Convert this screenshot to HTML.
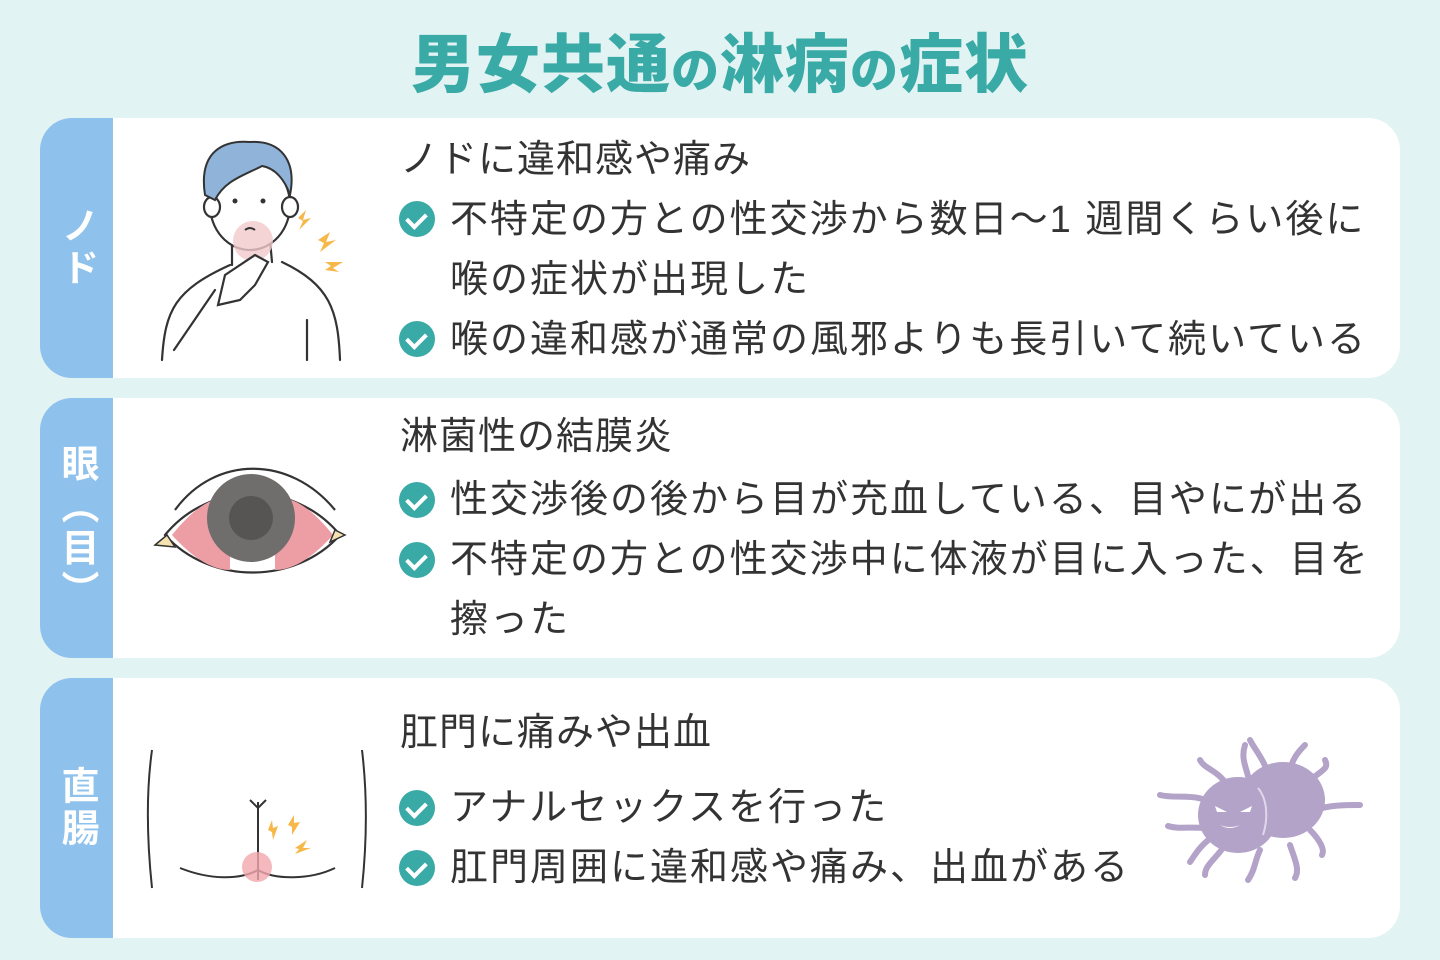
<!DOCTYPE html>
<html><head><meta charset="utf-8"><style>
*{margin:0;padding:0;box-sizing:border-box}
body{width:1440px;height:960px;background:#e2f3f3;position:relative;overflow:hidden;font-family:"Liberation Sans","Noto Sans CJK JP",sans-serif;color:#333}
.title{position:absolute;top:22px;left:0;width:1440px;text-align:center;font-size:64px;font-weight:900;color:#3aaaa6;letter-spacing:1px;line-height:86px}
.title small{font-size:48px}
.card{position:absolute;left:40px;width:1360px;height:260px;background:#fff;border-radius:32px;overflow:hidden}
.tab{position:absolute;left:0;top:0;width:73px;height:100%;background:#8ec1eb;display:flex;align-items:center;justify-content:center}
.tab span{writing-mode:vertical-rl;color:#fff;font-size:38px;font-weight:700;letter-spacing:4px}
.t{position:absolute;font-size:38px;line-height:40px;white-space:nowrap;color:#333;letter-spacing:2px}
.h{letter-spacing:1px}
.ck{position:absolute;width:36px;height:36px;border-radius:50%;background:#3aaaa6}
.ck:after{content:"";position:absolute;left:11px;top:8px;width:9px;height:15px;border:solid #fff;border-width:0 4px 4px 0;transform:rotate(45deg)}
svg{position:absolute}
</style></head><body>
<div class="title">男女共通<small>の</small>淋病<small>の</small>症状</div>

<div class="card" style="top:118px">
<div class="tab"><span>ノド</span></div>
<svg style="left:100px;top:10px" width="240" height="245" viewBox="140 128 240 245">
<g fill="none" stroke="#333" stroke-width="2.2" stroke-linecap="round">
<path d="M162 360 C165 310 175 290 230 265 M340 360 C338 310 330 285 282 262"/>
<path d="M174 350 L215 290 M307 320 L307 360"/>
<path d="M232 240 L232 265 M270 240 L272 262"/>
<ellipse cx="250" cy="205" rx="40" ry="45" fill="#fff"/>
<ellipse cx="212" cy="207" rx="8" ry="10" fill="#fff"/><ellipse cx="290" cy="207" rx="8" ry="10" fill="#fff"/>
</g>
<path d="M205 195 C198 150 225 140 250 142 C280 140 297 160 290 195 C285 180 275 168 262 166 C245 175 225 180 215 200 Z" fill="#8fb3d9" stroke="#333" stroke-width="2"/>
<circle cx="253" cy="241" r="20" fill="#f2c9cc" opacity=".8"/>
<circle cx="235" cy="201" r="2.5" fill="#333"/><circle cx="263" cy="201" r="2.5" fill="#333"/>
<path d="M245 230 q5 -4 10 0" stroke="#333" stroke-width="2" fill="none"/>
<path d="M218 305 L225 275 L255 255 L268 262 L255 285 L240 300 Z" fill="#fff" stroke="#333" stroke-width="2.2"/>
<path d="M298 218 l8 -8 -3 10 8 -2 -12 12 4 -9z M318 240 l12 -8 -4 10 10 -2 -16 12 4 -9z M325 262 l18 0 -10 6 6 4 -14 -2 6 -4z" fill="#f7b84a"/>
</svg>
<div class="t h" style="left:360px;top:22px">ノドに違和感や痛み</div>
<div class="ck" style="left:359px;top:83px"></div>
<div class="t" style="left:410px;top:82px">不特定の方との性交渉から数日〜1 週間くらい後に</div>
<div class="t" style="left:410px;top:142px">喉の症状が出現した</div>
<div class="ck" style="left:359px;top:203px"></div>
<div class="t" style="left:410px;top:202px">喉の違和感が通常の風邪よりも長引いて続いている</div>
</div>

<div class="card" style="top:398px">
<div class="tab"><span>眼（目）</span></div>
<svg style="left:110px;top:60px" width="200" height="120" viewBox="150 458 200 120">
<path d="M175 510 C215 455 290 455 335 510" fill="none" stroke="#333" stroke-width="2.2"/>
<path d="M165 535 C210 480 295 480 340 535 C295 585 210 585 165 535 Z" fill="#fff" stroke="#333" stroke-width="2.2"/>
<path d="M172 535 C200 500 220 495 230 500 L230 570 C210 570 190 555 172 535 Z" fill="#ed9ea4"/>
<path d="M333 535 C305 500 285 495 275 500 L275 570 C295 570 315 555 333 535 Z" fill="#ed9ea4"/>
<circle cx="251" cy="518" r="44" fill="#6f6e6c"/><circle cx="251" cy="518" r="22" fill="#565553"/>
<path d="M155 545 l12 -10 8 12 z M345 535 l-10 -5 -5 12z" fill="#f5e2b0" stroke="#333" stroke-width="1.5"/>
</svg>
<div class="t h" style="left:360px;top:19px">淋菌性の結膜炎</div>
<div class="ck" style="left:359px;top:84px"></div>
<div class="t" style="left:410px;top:82px">性交渉後の後から目が充血している、目やにが出る</div>
<div class="ck" style="left:359px;top:144px"></div>
<div class="t" style="left:410px;top:142px">不特定の方との性交渉中に体液が目に入った、目を</div>
<div class="t" style="left:410px;top:202px">擦った</div>
</div>

<div class="card" style="top:678px">
<div class="tab"><span>直腸</span></div>
<svg style="left:100px;top:60px" width="240" height="160" viewBox="140 738 240 160">
<g fill="none" stroke="#333" stroke-width="2">
<path d="M152 750 C145 800 148 850 152 888 M362 750 C368 800 366 850 362 888"/>
<path d="M180 868 C210 880 240 880 258 870 C275 880 310 880 335 868"/>
<path d="M258 802 L258 880 M250 800 L258 808 L266 800"/>
</g>
<circle cx="257" cy="867" r="15" fill="#f2a7ad" opacity=".8"/>
<path d="M268 830 l4 -10 1 8 5 -2 -5 14 -1 -8z M288 825 l6 -10 0 8 6 -1 -8 13 0 -8z M295 848 l12 -8 -4 8 8 0 -16 6 4 -5z" fill="#f7b84a"/>
</svg>
<svg style="left:1100px;top:50px" width="240" height="170" viewBox="1140 728 240 170">
<g stroke="#b3a3c9" stroke-width="6" fill="none" stroke-linecap="round">
<path d="M1220 810 C1200 790 1180 800 1160 795 M1215 830 C1195 825 1180 830 1168 826 M1230 790 C1220 770 1205 770 1200 760 M1250 785 C1248 770 1240 760 1245 745 M1270 780 C1265 760 1255 750 1250 740 M1290 775 C1290 760 1300 750 1305 745 M1305 785 C1320 770 1330 770 1325 760 M1315 810 C1330 805 1345 805 1360 805 M1310 830 C1320 840 1325 850 1322 855 M1290 845 C1295 860 1300 870 1295 878 M1260 850 C1255 860 1255 870 1248 880 M1225 845 C1215 860 1205 865 1205 875 M1215 835 C1200 845 1195 855 1190 862"/>
</g>
<ellipse cx="1283" cy="800" rx="42" ry="38" fill="#b3a3c9"/>
<ellipse cx="1238" cy="815" rx="40" ry="38" fill="#b3a3c9"/>
<path d="M1258 788 C1268 800 1268 820 1263 835" stroke="#e0d8ea" stroke-width="2" fill="none"/>
<path d="M1215 806 l12 6 -10 0z M1252 806 l-12 6 10 0z M1220 825 q10 6 20 0 q-10 4 -20 0z" fill="#fff"/>
</svg>
<div class="t h" style="left:360px;top:35px">肛門に痛みや出血</div>
<div class="ck" style="left:359px;top:112px"></div>
<div class="t" style="left:410px;top:110px">アナルセックスを行った</div>
<div class="ck" style="left:359px;top:172px"></div>
<div class="t" style="left:410px;top:170px">肛門周囲に違和感や痛み、出血がある</div>
</div>
</body></html>
